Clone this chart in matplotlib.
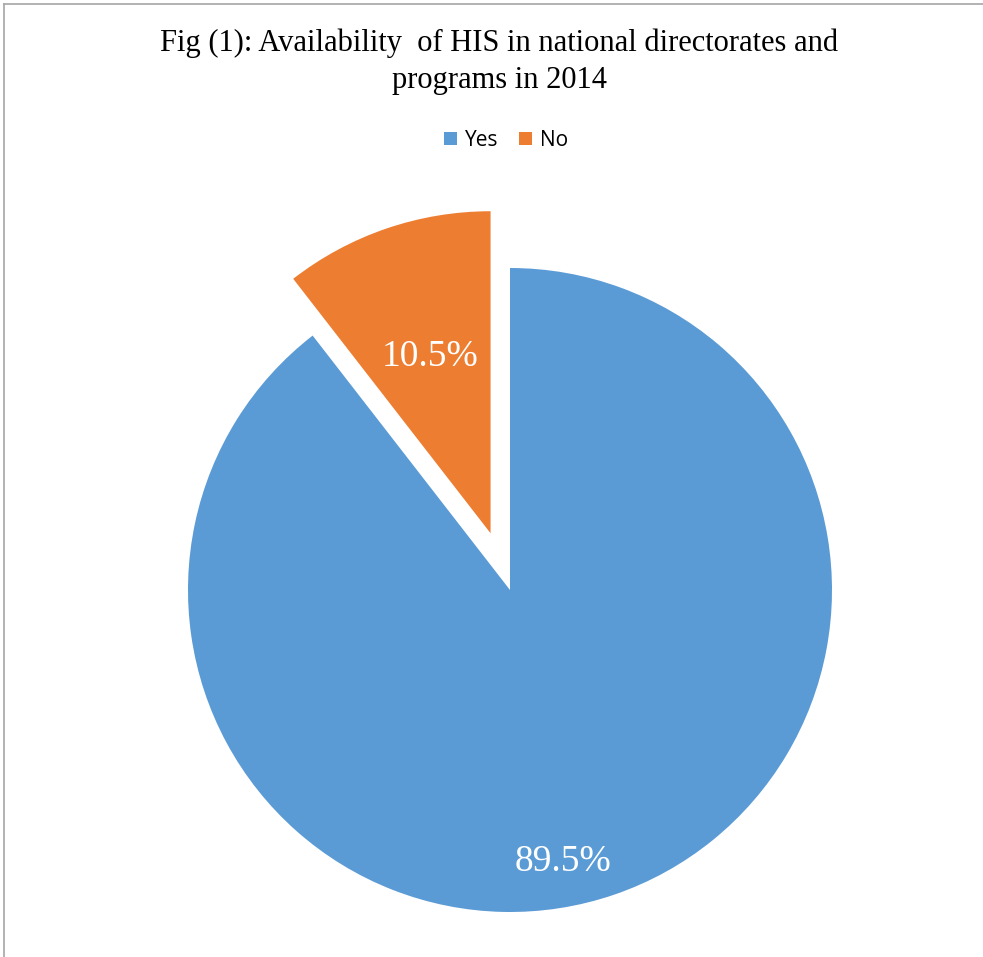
#!/usr/bin/env python3
"""
Pie chart: availability of HIS in national directorates and programs (2014)
"""

import matplotlib.pyplot as plt
import numpy as np

# data
labels = ['Yes', 'No']
shares = [89.5, 10.5]
colors = ['#5B9BD5', '#ED7D31']

W, H = 983, 957
fig = plt.figure(figsize=(W / 100, H / 100), dpi=100)
ax = fig.add_axes([0, 0, 1, 1])

# pie in pixel coordinates (y measured from bottom)
cx, cy, r = 510, H - 590, 322
wedges, texts, autotexts = ax.pie(
    shares, colors=colors, startangle=90, counterclock=False,
    explode=[0, 60], center=(cx, cy), radius=r,
    autopct='%.1f%%', pctdistance=0.58,
    wedgeprops=dict(linewidth=0),
    textprops=dict(color='white', family='Liberation Serif', fontsize=27),
    frame=True)
ax.set_xlim(0, W)
ax.set_ylim(0, H)
ax.set_aspect('equal')
ax.axis('off')

# Excel puts the big label lower than the bisector
ang = np.deg2rad(-79)
autotexts[0].set_position((cx + 0.86 * r * np.cos(ang), cy + 0.86 * r * np.sin(ang)))

# title
fig.text(0.508, 1 - 62 / H, 'Fig (1): Availability  of HIS in national directorates and\nprograms in 2014',
         ha='center', va='center', family='Liberation Serif', fontsize=22,
         linespacing=1.35)

# legend
leg = fig.legend(wedges, labels, loc='center', bbox_to_anchor=(0.515, 1 - 140 / H),
                 ncol=2, frameon=False, handlelength=0.6, handleheight=0.6,
                 handletextpad=0.4, columnspacing=1.0,
                 prop=dict(family='Open Sans', size=15))

# chart border (left and top only visible)
fig.add_artist(plt.Line2D([3.5 / W, 3.5 / W], [0, 1 - 3.5 / H], transform=fig.transFigure,
                          color='#a6a6a6', lw=1.2))
fig.add_artist(plt.Line2D([3.5 / W, 1], [1 - 3.5 / H, 1 - 3.5 / H], transform=fig.transFigure,
                          color='#a6a6a6', lw=1.2))

fig.savefig('out.png', dpi=100)
